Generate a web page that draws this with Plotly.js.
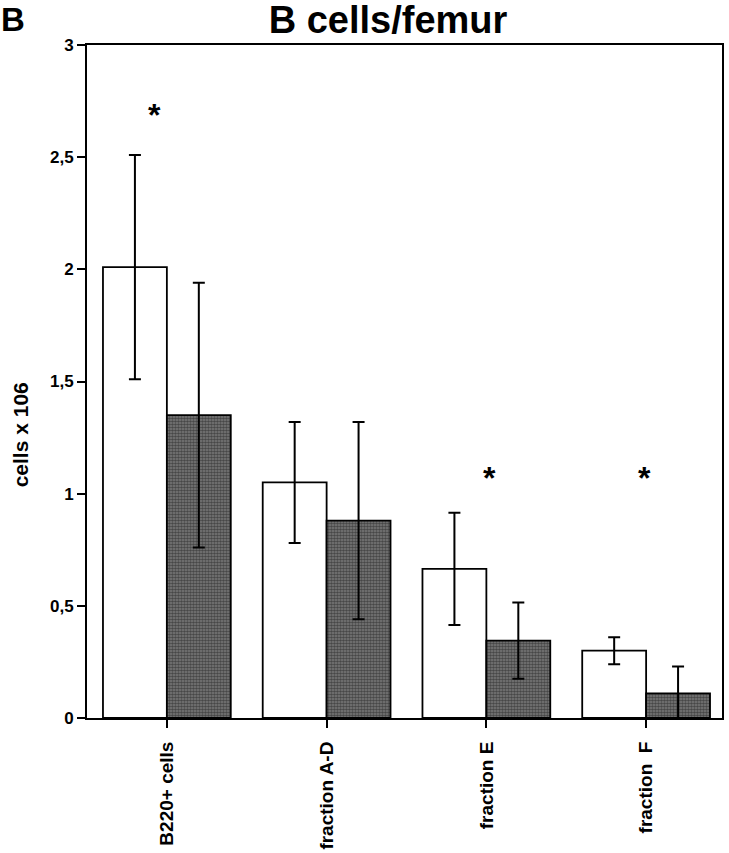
<!DOCTYPE html>
<html>
<head>
<meta charset="utf-8">
<script src="https://cdn.plot.ly/plotly-3.0.1.min.js"></script>
<style>
html,body{margin:0;padding:0;background:#fff;}
#chart{width:729px;height:853px;}
</style>
</head>
<body>
<div id="chart"></div>
<script>
// Data
const categories = ["B220+ cells", "fraction A-D", "fraction E", "fraction  F"];
const controlValues = [2.01, 1.05, 0.665, 0.30];
const controlErrors = [0.50, 0.27, 0.25, 0.06];
const treatedValues = [1.35, 0.88, 0.345, 0.11];
const treatedErrors = [0.59, 0.44, 0.17, 0.12];
// significance markers (category index offset, y value)
const starX = [-0.075, 2.02, 2.99];
const starY = [2.72, 1.10, 1.10];
const yTickVals = [0, 0.5, 1, 1.5, 2, 2.5, 3];
const yTickText = ["0", "0,5", "1", "1,5", "2", "2,5", "3"];

const FONT = "Liberation Sans, Arial, Helvetica, sans-serif";

const traceControl = {
  type: "bar",
  x: categories,
  y: controlValues,
  marker: { color: "#ffffff", line: { color: "#000", width: 1.8 } },
  error_y: { type: "data", array: controlErrors, visible: true, color: "#000", thickness: 2, width: 6 },
  showlegend: false,
  hoverinfo: "none"
};
const traceTreated = {
  type: "bar",
  x: categories,
  y: treatedValues,
  marker: {
    color: "#5a5a5a",
    line: { color: "#000", width: 1.8 },
    pattern: { shape: ".", bgcolor: "#7c7c7c", fgcolor: "#111111", size: 3, solidity: 0.6, fillmode: "overlay" }
  },
  error_y: { type: "data", array: treatedErrors, visible: true, color: "#000", thickness: 2, width: 6 },
  showlegend: false,
  hoverinfo: "none"
};

const annotations = starX.map((x, i) => ({
  x: x, y: starY[i], xref: "x", yref: "y",
  text: "<b>*</b>", showarrow: false,
  font: { family: FONT, size: 32, color: "#000" },
  xanchor: "center", yanchor: "middle", yshift: -7
}));
annotations.push({
  x: -0.1055, y: 0.42, xref: "paper", yref: "paper",
  text: "<b>cells x 106</b>", textangle: -90, showarrow: false,
  font: { family: FONT, size: 21, color: "#000" },
  xanchor: "center", yanchor: "middle"
});
annotations.push({
  x: 0, y: 1, xref: "paper", yref: "paper",
  xshift: -88, yshift: 46,
  text: "<b>B</b>", showarrow: false,
  font: { family: FONT, size: 33, color: "#000" },
  xanchor: "left", yanchor: "top"
});

const layout = {
  width: 729, height: 853,
  margin: { l: 87, r: 7, t: 45, b: 135, pad: 0 },
  paper_bgcolor: "#fff", plot_bgcolor: "#fff",
  title: { text: "<b>B cells/femur</b>", font: { family: FONT, size: 38, color: "#000" },
           x: 0.474, xref: "paper", xanchor: "center", y: 0.977, yanchor: "middle" },
  barmode: "group", bargap: 0.2, bargroupgap: 0,
  xaxis: {
    type: "category", range: [-0.5, 3.475],
    tickvals: categories, ticktext: categories.map(c => "<b>" + c + "</b>"),
    showline: true, linecolor: "#000", linewidth: 2, mirror: true,
    ticks: "outside", ticklen: 8, tickwidth: 2, tickcolor: "#000",
    ticklabelstandoff: 6,
    tickangle: -90, showgrid: false, zeroline: false,
    tickfont: { family: FONT, size: 19, color: "#000" }
  },
  yaxis: {
    range: [0, 3],
    tickvals: yTickVals, ticktext: yTickText.map(t => "<b>" + t + "</b>"),
    showline: true, linecolor: "#000", linewidth: 2, mirror: true,
    ticks: "outside", ticklen: 8, tickwidth: 2, tickcolor: "#000",
    showgrid: false, zeroline: false,
    tickfont: { family: FONT, size: 17, color: "#000" }
  },
  annotations: annotations
};

Plotly.newPlot("chart", [traceControl, traceTreated], layout, { staticPlot: true, displayModeBar: false });
</script>
</body>
</html>
